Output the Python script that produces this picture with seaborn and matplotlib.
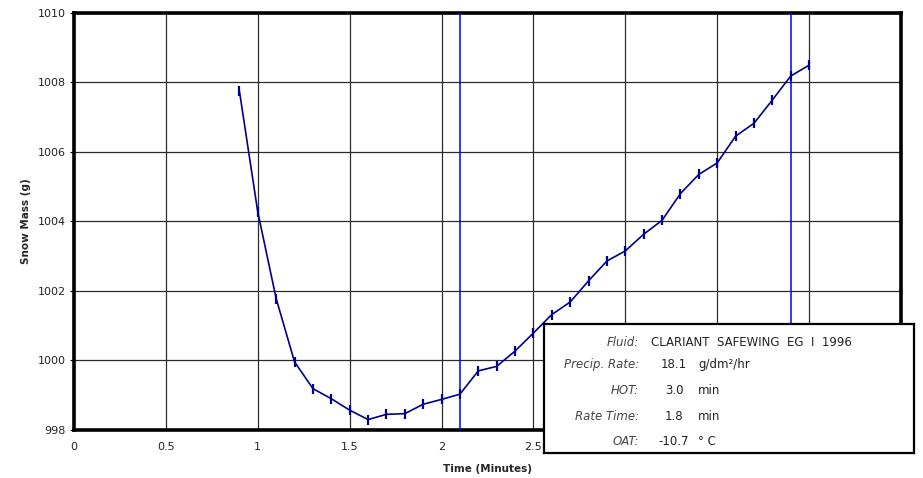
import matplotlib
matplotlib.use("Agg")
import matplotlib.pyplot as plt
import seaborn as sns
import pandas as pd

# Snow mass readings, one every 0.1 minute
time_min = [0.9, 1.0, 1.1, 1.2, 1.3, 1.4, 1.5, 1.6, 1.7, 1.8, 1.9, 2.0,
            2.1, 2.2, 2.3, 2.4, 2.5, 2.6, 2.7, 2.8, 2.9, 3.0, 3.1, 3.2,
            3.3, 3.4, 3.5, 3.6, 3.7, 3.8, 3.9, 4.0]
snow_mass = [1007.75, 1004.27, 1001.78, 999.96, 999.19, 998.90, 998.57, 998.30,
             998.45, 998.47, 998.74, 998.88, 999.03, 999.70, 999.83, 1000.27,
             1000.79, 1001.32, 1001.68, 1002.29, 1002.86, 1003.15, 1003.63, 1004.03,
             1004.80, 1005.35, 1005.68, 1006.45, 1006.82, 1007.49, 1008.18, 1008.49]

# Start and end of the rate-time window (minutes)
rate_window = [2.1, 3.9]

x_ticks = [0, 0.5, 1, 1.5, 2, 2.5, 3, 3.5, 4]
x_tick_labels = ["0", "0.5", "1", "1.5", "2", "2.5", "3", "3.5", "4"]
y_ticks = [998, 1000, 1002, 1004, 1006, 1008, 1010]

info_labels = ["Fluid:", "Precip. Rate:", "HOT:", "Rate Time:", "OAT:"]
info_values = ["18.1", "3.0", "1.8", "-10.7"]
info_units = ["g/dm²/hr", "min", "min", "° C"]
fluid_name = "CLARIANT  SAFEWING  EG  I  1996"

sns.set_theme(style="white")
plt.rcParams["font.family"] = ["DejaVu Sans"]

W, H = 923, 478
fig = plt.figure(figsize=(W / 100, H / 100), dpi=100)


def fx(px):
    return px / W


def fy(py):
    return 1 - py / H


ax = fig.add_axes([fx(74), fy(430), fx(901) - fx(74), fy(12.7) - fy(430)])

df = pd.DataFrame({"Time (Minutes)": time_min, "Snow Mass (g)": snow_mass})
sns.lineplot(data=df, x="Time (Minutes)", y="Snow Mass (g)", ax=ax,
             color="#00008B", linewidth=1.2, marker="|", markersize=7,
             markeredgewidth=1.6, markeredgecolor="#00008B", zorder=4)

for t in rate_window:
    ax.axvline(t, color="#0000FF", linewidth=1.1, zorder=3)

ax.set_xlim(0, 4.5)
ax.set_ylim(998, 1010)
ax.set_xticks(x_ticks)
ax.set_xticklabels(x_tick_labels)
ax.set_yticks(y_ticks)
ax.set_xticks([4.5], minor=True)
ax.grid(True, which="both", color="#2b2b2b", linewidth=0.9, zorder=1)
ax.set_axisbelow(True)

for sp in ax.spines.values():
    sp.set_visible(True)
    sp.set_color("black")
    sp.set_linewidth(2.6)

ax.tick_params(axis="y", which="major", direction="out", length=3, width=0.8,
               color="black", left=True, labelsize=8, pad=3, labelcolor="#222222")
ax.tick_params(axis="x", which="both", length=0, labelsize=8, pad=9,
               labelcolor="#222222")

ax.set_xlabel("Time (Minutes)", fontsize=7.5, fontweight="bold", labelpad=8)
ax.set_ylabel("Snow Mass (g)", fontsize=7.5, fontweight="bold", labelpad=5)

# Test-condition panel, drawn over the lower right of the plot
box = fig.add_axes([fx(544), fy(453), fx(914) - fx(544), fy(324) - fy(453)])
box.set_facecolor("white")
box.set_xticks([])
box.set_yticks([])
for sp in box.spines.values():
    sp.set_visible(True)
    sp.set_color("black")
    sp.set_linewidth(1.6)

row_y = [342.7, 364.3, 390.7, 416.0, 441.7]
label_style = dict(fontsize=8.5, style="italic", color="#444444",
                   ha="right", va="center")
value_style = dict(fontsize=8.5, color="#222222", va="center")

for lab, yy in zip(info_labels, row_y):
    fig.text(fx(639), fy(yy), lab, **label_style)

fig.text(fx(651), fy(row_y[0]), fluid_name, ha="left", **value_style)
for val, unit, yy in zip(info_values, info_units, row_y[1:]):
    fig.text(fx(674), fy(yy), val, ha="center", **value_style)
    fig.text(fx(698), fy(yy), unit, ha="left", **value_style)

fig.savefig("out.png", dpi=100)
